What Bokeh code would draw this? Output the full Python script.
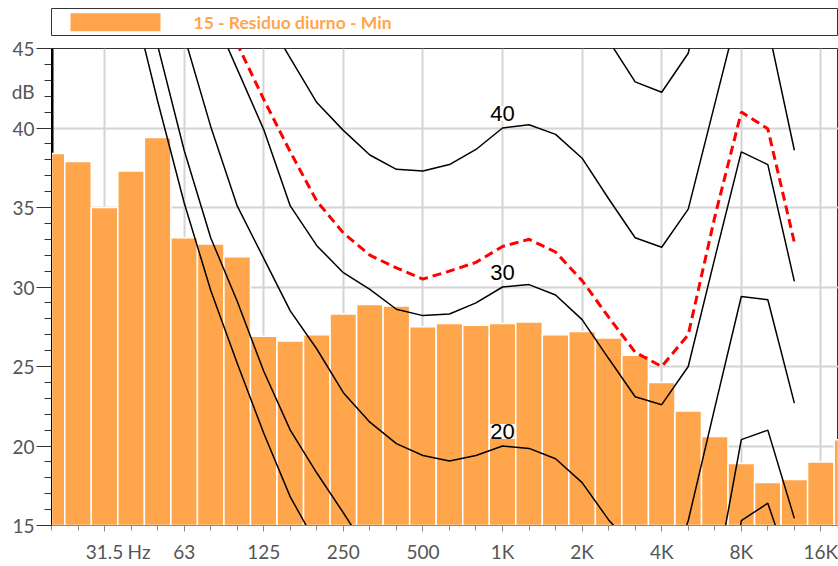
import numpy as np
from bokeh.plotting import figure
from bokeh.layouts import column
from bokeh.models import Range1d, FixedTicker, Span, LinearAxis, LabelSet, ColumnDataSource
from bokeh.core.properties import value
from bokeh.embed import file_html
from bokeh.resources import INLINE

# ---------------- data ----------------
legend_label = "15 - Residuo diurno - Min"

bands_hz = [20, 25, 31.5, 40, 50, 63, 80, 100, 125, 160, 200, 250, 315, 400, 500,
            630, 800, 1000, 1250, 1600, 2000, 2500, 3150, 4000, 5000, 6300, 8000,
            10000, 12500, 16000, 20000]
level_db = [38.4, 37.9, 35.0, 37.3, 39.4, 33.1, 32.7, 31.9, 26.9, 26.6, 27.0, 28.3,
            28.9, 28.8, 27.5, 27.7, 27.6, 27.7, 27.8, 27.0, 27.2, 26.8, 25.7, 24.0,
            22.2, 20.6, 18.9, 17.7, 17.9, 19.0, 20.4]

curve_hz = bands_hz[:29]
curve_0 = [70, 62, 55, 48.5, 41.7, 35.3, 29.8, 25.2, 20.8, 16.8, 13.8, 11.0, 8.5, 6.5,
           5.0, 4.0, 3.5, 4.0, 4.5, 3.5, 1.5, -1.0, -3.0, -4.0, -2.0, 2.0, 15.3, 16.4, 11.5]
curve_10 = [78, 70, 63, 56, 45.2, 38.6, 33.1, 29.1, 24.7, 21.0, 18.3, 15.8, 13.2, 12.0,
            11.0, 10.5, 10.5, 10.0, 10.5, 10.0, 8.5, 7.0, 5.0, 4.0, 5.0, 11.3, 20.4, 21.0, 15.45]
curve_20 = [85, 77, 69, 61, 52.5, 45.8, 40.1, 35.1, 31.8, 28.5, 26.1, 23.35, 21.5, 20.15,
            19.4, 19.05, 19.4, 20.0, 19.85, 19.2, 17.7, 15.35, 13.5, 10.5, 15.3, 22.4, 29.4, 29.2, 22.7]
curve_30 = [92, 84, 76, 68, 60, 52, 47.5, 43.7, 39.9, 35.1, 32.6, 30.9, 29.85, 28.6,
            28.2, 28.3, 29.0, 30.0, 30.15, 29.5, 27.95, 25.5, 23.1, 22.6, 25.0, 31.8, 38.5, 37.7, 30.35]
curve_40 = [100, 92, 85, 78, 71, 64, 57, 51, 47.2, 44.4, 41.6, 39.85, 38.3, 37.4,
            37.3, 37.7, 38.65, 40.0, 40.2, 39.6, 38.1, 35.55, 33.1, 32.5, 34.9, 41.5, 48.1, 46.4, 38.6]
curve_50 = [108, 100, 93, 86, 80, 74, 68, 63, 59, 56, 53, 51, 49.5, 48.5, 48, 48.5,
            49.5, 50, 50.5, 50, 48.5, 45.5, 42.9, 42.25, 44.7, 52, 58, 57, 49]
curve_red = [95, 87, 79, 71, 63, 55, 49, 45.3, 41.8, 38.5, 35.4, 33.4, 32.0, 31.2,
             30.5, 31.0, 31.55, 32.55, 33.0, 32.2, 30.4, 28.1, 25.9, 25.0, 27.0, 34.4, 41.0, 39.95, 32.8]

contour_labels = ["40", "30", "20"]
contour_label_hz = 1000

octave_ticks_hz = [31.5, 63, 125, 250, 500, 1000, 2000, 4000, 8000, 16000]
octave_labels = ["31.5", "63", "125", "250", "500", "1K", "2K", "4K", "8K", "16K"]
x_unit_label, x_unit_pos = "Hz", -13.7      # unit text beside the 31.5 label
y_ticks = [15, 20, 25, 30, 35, 40, 45]
y_minor = list(range(15, 46))
y_unit_label, y_unit_pos = "dB", 42.3


def band_pos(f):
    # third-octave band index relative to 1 kHz
    return int(round(3 * np.log2(f / 1000.0)))


bar_x = [band_pos(f) for f in bands_hz]
curve_x = [band_pos(f) for f in curve_hz]
tick_x = [band_pos(f) for f in octave_ticks_hz]

ORANGE = "#FFA64D"
FONT = "Lato"
GRAY_TXT = "#555555"

# ---------------- legend strip ----------------
leg = figure(width=838, height=36, x_range=Range1d(0, 787), y_range=Range1d(0, 27),
             x_axis_location=None, y_axis_location=None, toolbar_location=None,
             output_backend="svg", min_border_left=51, min_border_right=0,
             min_border_top=8, min_border_bottom=1)
leg.grid.visible = False
leg.outline_line_color = "#333333"
leg.outline_line_width = 1
leg.quad(left=[19], right=[109], bottom=[4.3], top=[22.3], fill_color=ORANGE, line_color=None)
leg.text(x=[142], y=[13.5], text=[legend_label], text_color=ORANGE,
         text_font=value(FONT), text_font_style="bold", text_font_size="17.5px",
         text_baseline="middle", text_align="left")

# ---------------- main chart ----------------
p = figure(width=838, height=530, x_range=Range1d(-17, 12.664), y_range=Range1d(15, 45),
           toolbar_location=None, output_backend="svg",
           min_border_left=51, min_border_right=0, min_border_top=12, min_border_bottom=41)
p.outline_line_color = "#333333"
p.outline_line_width = 1

# thick left axis line (partly hidden under the bars)
p.add_layout(Span(location=-17, dimension="height", line_color="black",
                  line_width=4, level="underlay"))

p.vbar(x=bar_x, top=level_db, bottom=0, width=1.0, fill_color=ORANGE,
       line_color="white", line_width=1.5)

for c in [curve_0, curve_10, curve_20, curve_30, curve_40, curve_50]:
    p.line(curve_x, c, line_color="black", line_width=1.5)
p.line(curve_x, curve_red, line_color="#FF0000", line_width=3, line_dash="9 5")

i1k = curve_hz.index(contour_label_hz)
lab_src = ColumnDataSource(dict(
    x=[band_pos(contour_label_hz)] * 3,
    y=[curve_40[i1k], curve_30[i1k], curve_20[i1k]],
    t=contour_labels))
p.add_layout(LabelSet(x="x", y="y", text="t", source=lab_src, y_offset=7,
                      text_font=value("Liberation Sans"), text_font_size="22px",
                      text_color="black", text_align="center", text_baseline="alphabetic",
                      background_fill_color="white"))

# grids
p.xgrid.ticker = FixedTicker(ticks=tick_x)
p.ygrid.ticker = FixedTicker(ticks=y_ticks)
p.grid.grid_line_color = "#d4d4d4"
p.grid.grid_line_width = 2

# x axis: inner axis = ticks only, outer axis = labels only
xax = p.xaxis[0]
xax.ticker = FixedTicker(ticks=tick_x, minor_ticks=bar_x)
xax.major_label_text_font_size = "1px"
xax.major_label_text_alpha = 0
xax.major_label_standoff = 0
xax.axis_line_color = "#888888"
xax.major_tick_line_color = "#888888"
xax.minor_tick_line_color = "#888888"
xax.major_tick_in = 0
xax.major_tick_out = 6
xax.minor_tick_in = 0
xax.minor_tick_out = 5

xlab_overrides = {t: l for t, l in zip(tick_x, octave_labels)}
xlab_overrides[x_unit_pos] = x_unit_label
xlab = LinearAxis(ticker=FixedTicker(ticks=tick_x + [x_unit_pos]),
                  major_label_overrides=xlab_overrides,
                  axis_line_color=None, major_tick_line_color=None, minor_tick_line_color=None,
                  major_tick_in=0, major_tick_out=0, minor_tick_in=0, minor_tick_out=0,
                  major_label_standoff=8, major_label_text_font=FONT,
                  major_label_text_font_size="19px", major_label_text_color=GRAY_TXT)
p.add_layout(xlab, "below")

# y axis: inner axis = ticks only, outer axis = labels only
yax = p.yaxis[0]
yax.ticker = FixedTicker(ticks=y_ticks, minor_ticks=y_minor)
yax.major_label_text_font_size = "1px"
yax.major_label_text_alpha = 0
yax.major_label_standoff = 0
yax.axis_line_color = "black"
yax.axis_line_width = 1
yax.major_tick_line_color = "#333333"
yax.minor_tick_line_color = "#333333"
yax.major_tick_in = 0
yax.major_tick_out = 15
yax.minor_tick_in = 0
yax.minor_tick_out = 7

ylab_overrides = {t: str(t) for t in y_ticks}
ylab_overrides[y_unit_pos] = y_unit_label
ylab = LinearAxis(ticker=FixedTicker(ticks=y_ticks + [y_unit_pos]),
                  major_label_overrides=ylab_overrides,
                  axis_line_color=None, major_tick_line_color=None, minor_tick_line_color=None,
                  major_tick_in=0, major_tick_out=0, minor_tick_in=0, minor_tick_out=0,
                  major_label_standoff=2, major_label_text_font=FONT,
                  major_label_text_font_size="19px", major_label_text_color=GRAY_TXT)
p.add_layout(ylab, "left")

layout = column(leg, p, spacing=0)
open("out.html", "w").write(file_html(layout, INLINE))
